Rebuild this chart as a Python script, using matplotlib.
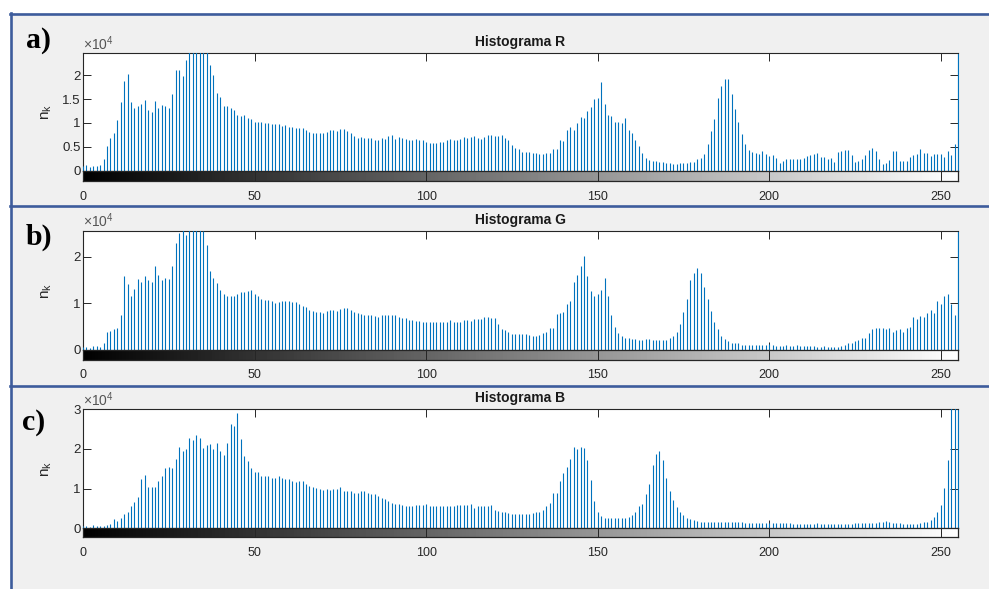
import matplotlib.pyplot as plt
import numpy as np
from matplotlib.lines import Line2D
from matplotlib.patches import Rectangle

plt.rcParams['font.family'] = ['Liberation Sans', 'DejaVu Sans']
plt.rcParams['mathtext.fontset'] = 'custom'
plt.rcParams['mathtext.rm'] = 'Liberation Sans'
plt.rcParams['mathtext.it'] = 'Liberation Sans:italic'

levels = np.arange(256)

# histogram counts in units of 1e4, 10 bins per row
hist_r = [
    0.10, 0.12, 0.08, 0.10, 0.10, 0.12, 0.25, 0.51, 0.69, 0.80,
    1.06, 1.44, 1.88, 2.03, 1.44, 1.31, 1.35, 1.40, 1.49, 1.28,
    1.22, 1.47, 1.31, 1.38, 1.36, 1.31, 1.60, 2.10, 2.10, 1.99,
    2.31, 2.60, 2.70, 2.80, 2.75, 2.60, 2.50, 2.22, 2.00, 1.63,
    1.54, 1.36, 1.36, 1.31, 1.27, 1.16, 1.15, 1.17, 1.10, 1.08,
    1.03, 1.03, 1.01, 1.00, 0.99, 0.98, 0.97, 0.97, 0.93, 0.96,
    0.92, 0.91, 0.90, 0.90, 0.89, 0.85, 0.81, 0.79, 0.78, 0.78,
    0.78, 0.82, 0.86, 0.86, 0.84, 0.88, 0.88, 0.84, 0.79, 0.72,
    0.69, 0.71, 0.69, 0.68, 0.69, 0.65, 0.65, 0.69, 0.67, 0.72,
    0.74, 0.67, 0.71, 0.68, 0.67, 0.65, 0.65, 0.67, 0.65, 0.64,
    0.60, 0.58, 0.58, 0.58, 0.60, 0.60, 0.65, 0.66, 0.65, 0.65,
    0.67, 0.70, 0.68, 0.70, 0.72, 0.69, 0.66, 0.71, 0.74, 0.74,
    0.72, 0.73, 0.74, 0.68, 0.65, 0.54, 0.48, 0.45, 0.40, 0.40,
    0.40, 0.38, 0.38, 0.36, 0.36, 0.38, 0.38, 0.46, 0.46, 0.64,
    0.62, 0.86, 0.92, 0.86, 1.00, 1.12, 1.10, 1.26, 1.33, 1.51,
    1.52, 1.85, 1.39, 1.17, 1.15, 1.03, 1.03, 1.00, 1.10, 0.86,
    0.79, 0.65, 0.51, 0.37, 0.27, 0.22, 0.20, 0.20, 0.18, 0.18,
    0.17, 0.17, 0.15, 0.15, 0.17, 0.17, 0.17, 0.19, 0.19, 0.24,
    0.27, 0.36, 0.56, 0.83, 1.09, 1.53, 1.78, 1.93, 1.92, 1.61,
    1.29, 1.01, 0.76, 0.56, 0.44, 0.40, 0.38, 0.36, 0.42, 0.36,
    0.31, 0.33, 0.26, 0.17, 0.20, 0.24, 0.25, 0.25, 0.25, 0.24,
    0.26, 0.31, 0.33, 0.34, 0.38, 0.29, 0.29, 0.25, 0.27, 0.19,
    0.40, 0.41, 0.43, 0.44, 0.33, 0.19, 0.20, 0.24, 0.33, 0.44,
    0.48, 0.42, 0.25, 0.15, 0.17, 0.22, 0.42, 0.42, 0.21, 0.20,
    0.20, 0.29, 0.32, 0.34, 0.46, 0.38, 0.38, 0.31, 0.34, 0.34,
    0.34, 0.29, 0.41, 0.32, 0.56, 3.00,
]
hist_g = [
    0.07, 0.07, 0.05, 0.09, 0.08, 0.07, 0.14, 0.39, 0.40, 0.44,
    0.48, 0.76, 1.59, 1.42, 1.16, 1.30, 1.52, 1.46, 1.59, 1.49,
    1.46, 1.79, 1.61, 1.50, 1.55, 1.52, 1.79, 2.29, 2.50, 2.60,
    2.46, 2.70, 2.80, 2.70, 2.60, 2.56, 2.26, 1.69, 1.55, 1.43,
    1.29, 1.19, 1.16, 1.16, 1.16, 1.21, 1.25, 1.25, 1.27, 1.28,
    1.19, 1.16, 1.09, 1.07, 1.08, 1.04, 1.01, 1.02, 1.06, 1.05,
    1.04, 1.02, 1.02, 0.98, 0.95, 0.92, 0.86, 0.84, 0.81, 0.82,
    0.80, 0.84, 0.86, 0.85, 0.84, 0.87, 0.91, 0.89, 0.85, 0.82,
    0.79, 0.77, 0.74, 0.74, 0.74, 0.72, 0.71, 0.76, 0.74, 0.74,
    0.74, 0.75, 0.70, 0.68, 0.68, 0.64, 0.64, 0.62, 0.63, 0.61,
    0.59, 0.61, 0.61, 0.60, 0.61, 0.61, 0.61, 0.64, 0.60, 0.61,
    0.60, 0.64, 0.64, 0.62, 0.66, 0.67, 0.66, 0.70, 0.71, 0.68,
    0.68, 0.55, 0.45, 0.43, 0.38, 0.35, 0.35, 0.34, 0.34, 0.35,
    0.32, 0.31, 0.31, 0.32, 0.36, 0.38, 0.48, 0.48, 0.77, 0.79,
    0.82, 0.99, 1.05, 1.45, 1.61, 1.80, 2.01, 1.58, 1.27, 1.16,
    1.21, 1.29, 1.54, 1.16, 0.74, 0.49, 0.36, 0.29, 0.25, 0.25,
    0.24, 0.23, 0.21, 0.21, 0.23, 0.23, 0.21, 0.21, 0.21, 0.22,
    0.21, 0.25, 0.29, 0.39, 0.55, 0.81, 1.09, 1.49, 1.66, 1.76,
    1.66, 1.34, 1.09, 0.84, 0.61, 0.45, 0.31, 0.23, 0.19, 0.15,
    0.14, 0.14, 0.11, 0.11, 0.11, 0.11, 0.11, 0.11, 0.11, 0.11,
    0.12, 0.11, 0.09, 0.09, 0.09, 0.10, 0.09, 0.09, 0.10, 0.09,
    0.09, 0.08, 0.08, 0.09, 0.07, 0.07, 0.08, 0.07, 0.06, 0.06,
    0.07, 0.09, 0.11, 0.16, 0.16, 0.19, 0.22, 0.25, 0.25, 0.36,
    0.46, 0.48, 0.48, 0.48, 0.44, 0.48, 0.39, 0.43, 0.46, 0.38,
    0.48, 0.50, 0.71, 0.66, 0.73, 0.71, 0.79, 0.86, 0.79, 1.04,
    0.98, 1.16, 1.21, 0.98, 0.76, 3.00,
]
hist_b = [
    0.06, 0.06, 0.04, 0.08, 0.05, 0.06, 0.07, 0.08, 0.11, 0.23,
    0.19, 0.26, 0.36, 0.42, 0.57, 0.66, 0.78, 1.24, 1.35, 1.03,
    1.03, 1.03, 1.20, 1.33, 1.52, 1.54, 1.52, 1.74, 2.04, 1.96,
    2.00, 2.27, 2.23, 2.35, 2.27, 2.02, 2.11, 2.13, 2.01, 2.15,
    1.95, 1.85, 2.15, 2.64, 2.59, 2.91, 2.25, 1.83, 1.70, 1.52,
    1.42, 1.42, 1.31, 1.33, 1.32, 1.28, 1.28, 1.32, 1.28, 1.24,
    1.24, 1.18, 1.16, 1.20, 1.18, 1.12, 1.07, 1.04, 1.01, 0.99,
    0.97, 0.99, 0.97, 0.99, 0.99, 1.04, 0.95, 0.95, 0.93, 0.90,
    0.88, 0.93, 0.93, 0.88, 0.87, 0.86, 0.82, 0.76, 0.74, 0.69,
    0.65, 0.61, 0.61, 0.59, 0.57, 0.57, 0.56, 0.59, 0.59, 0.59,
    0.61, 0.57, 0.57, 0.57, 0.57, 0.56, 0.55, 0.56, 0.55, 0.59,
    0.58, 0.58, 0.58, 0.61, 0.52, 0.55, 0.56, 0.56, 0.57, 0.59,
    0.46, 0.44, 0.40, 0.40, 0.38, 0.36, 0.35, 0.36, 0.36, 0.36,
    0.36, 0.38, 0.40, 0.42, 0.46, 0.56, 0.63, 0.90, 0.88, 1.18,
    1.39, 1.54, 1.75, 2.04, 1.99, 2.06, 2.02, 1.71, 1.22, 0.70,
    0.42, 0.31, 0.27, 0.27, 0.27, 0.25, 0.25, 0.27, 0.27, 0.29,
    0.34, 0.41, 0.55, 0.62, 0.87, 1.12, 1.60, 1.88, 1.94, 1.73,
    1.26, 0.95, 0.72, 0.53, 0.40, 0.34, 0.27, 0.24, 0.21, 0.19,
    0.17, 0.17, 0.17, 0.17, 0.17, 0.15, 0.15, 0.15, 0.15, 0.17,
    0.15, 0.15, 0.15, 0.14, 0.14, 0.13, 0.13, 0.13, 0.13, 0.13,
    0.13, 0.13, 0.13, 0.13, 0.13, 0.13, 0.13, 0.10, 0.10, 0.10,
    0.10, 0.10, 0.10, 0.10, 0.13, 0.11, 0.10, 0.10, 0.10, 0.10,
    0.10, 0.10, 0.11, 0.11, 0.11, 0.13, 0.13, 0.13, 0.13, 0.13,
    0.14, 0.14, 0.15, 0.17, 0.19, 0.17, 0.14, 0.13, 0.13, 0.10,
    0.10, 0.10, 0.10, 0.10, 0.13, 0.15, 0.17, 0.21, 0.28, 0.40,
    0.59, 1.01, 1.71, 3.20, 3.30, 3.40,
]

titles = ['Histograma R', 'Histograma G', 'Histograma B']
letters = ['a)', 'b)', 'c)']
y_tops = [2.46, 2.55, 3.0]
y_ticks = [[0, 0.5, 1, 1.5, 2], [0, 1, 2], [0, 1, 2, 3]]
y_ticklabels = [['0', '0.5', '1', '1.5', '2'], ['0', '1', '2'], ['0', '1', '2', '3']]
x_ticks = [0, 50, 100, 150, 200, 250]

W, H = 989, 589
fig = plt.figure(figsize=(W / 100, H / 100), dpi=100)
fig.patch.set_facecolor('white')

def fx(px):
    return px / W

def fy(py):
    return 1 - py / H

# grey panel background and blue borders
fig.add_artist(Rectangle((fx(11), 0), 1, fy(13), transform=fig.transFigure,
                         facecolor='#f0f0f0', edgecolor='none', zorder=-10))
border = '#3d5c9c'
for yb in [13.5, 205.5, 385.5]:
    fig.add_artist(Line2D([fx(10), 1], [fy(yb), fy(yb)], transform=fig.transFigure,
                          color=border, lw=1.9))
fig.add_artist(Line2D([fx(11), fx(11)], [fy(12.5), 0], transform=fig.transFigure,
                      color=border, lw=1.9))

# pixel layout of each panel: axes top, zero line, colourbar bottom, letter baseline
tops = [53.3, 231.0, 409.3]
zeros = [170.7, 350.0, 528.3]
cb_bottoms = [181.0, 359.5, 537.0]
letter_base = [48.0, 245.0, 430.0]
letter_x = [26, 26, 22]

x0, x1 = 83, 958
dark = '#262626'
stem_blue = '#0072BD'

for k, hist in enumerate([hist_r, hist_g, hist_b]):
    counts = np.array(hist) * 1e4
    ax = fig.add_axes([fx(x0), fy(zeros[k]), fx(x1 - x0), (zeros[k] - tops[k]) / H])
    ax.vlines(levels, 0, counts, color=stem_blue, lw=0.8, zorder=3)
    ax.set_xlim(0, 255)
    ax.set_ylim(0, y_tops[k] * 1e4)
    ax.set_xticks(x_ticks)
    ax.set_xticklabels([])
    ax.set_yticks([v * 1e4 for v in y_ticks[k]])
    ax.set_yticklabels(y_ticklabels[k])
    ax.tick_params(direction='in', length=6, width=0.7, color=dark, labelcolor=dark,
                   labelsize=9.5, top=True, right=True, pad=1.5)
    for s in ax.spines.values():
        s.set_color(dark)
        s.set_linewidth(0.8)
    ax.spines['right'].set_color(stem_blue)
    ax.set_facecolor('white')
    ax.set_title(titles[k], fontsize=10, fontweight='bold', color='#1a1a1a', pad=5)
    ax.set_ylabel(r'$\mathregular{n_k}$', fontsize=11, color=dark)
    ax.yaxis.set_label_coords(-0.033, 0.5)
    ax.text(0, 1.005, r'$\times\mathregular{10^4}$', transform=ax.transAxes,
            ha='left', va='bottom', fontsize=10, color='#555555')

    # grey level bar under the histogram
    cb = fig.add_axes([fx(x0), fy(cb_bottoms[k]), fx(x1 - x0), (cb_bottoms[k] - zeros[k]) / H])
    cb.imshow(levels[None, :], cmap='gray', aspect='auto', extent=[-0.5, 255.5, 0, 1],
              interpolation='nearest')
    cb.set_xlim(0, 255)
    cb.set_ylim(0, 1)
    cb.set_yticks([])
    cb.set_xticks(x_ticks)
    cb.set_xticklabels([str(t) for t in x_ticks])
    cb.tick_params(axis='x', direction='in', length=4, width=0.7, color=dark,
                   labelcolor=dark, labelsize=9, top=True, pad=7)
    for s in cb.spines.values():
        s.set_color(dark)
        s.set_linewidth(0.9)

    fig.text(fx(letter_x[k]), fy(letter_base[k]), letters[k], fontsize=21.5,
             fontweight='bold', family=['Liberation Serif', 'DejaVu Serif'],
             va='baseline', ha='left', color='black')

fig.savefig('out.png', dpi=100, facecolor=fig.get_facecolor())
